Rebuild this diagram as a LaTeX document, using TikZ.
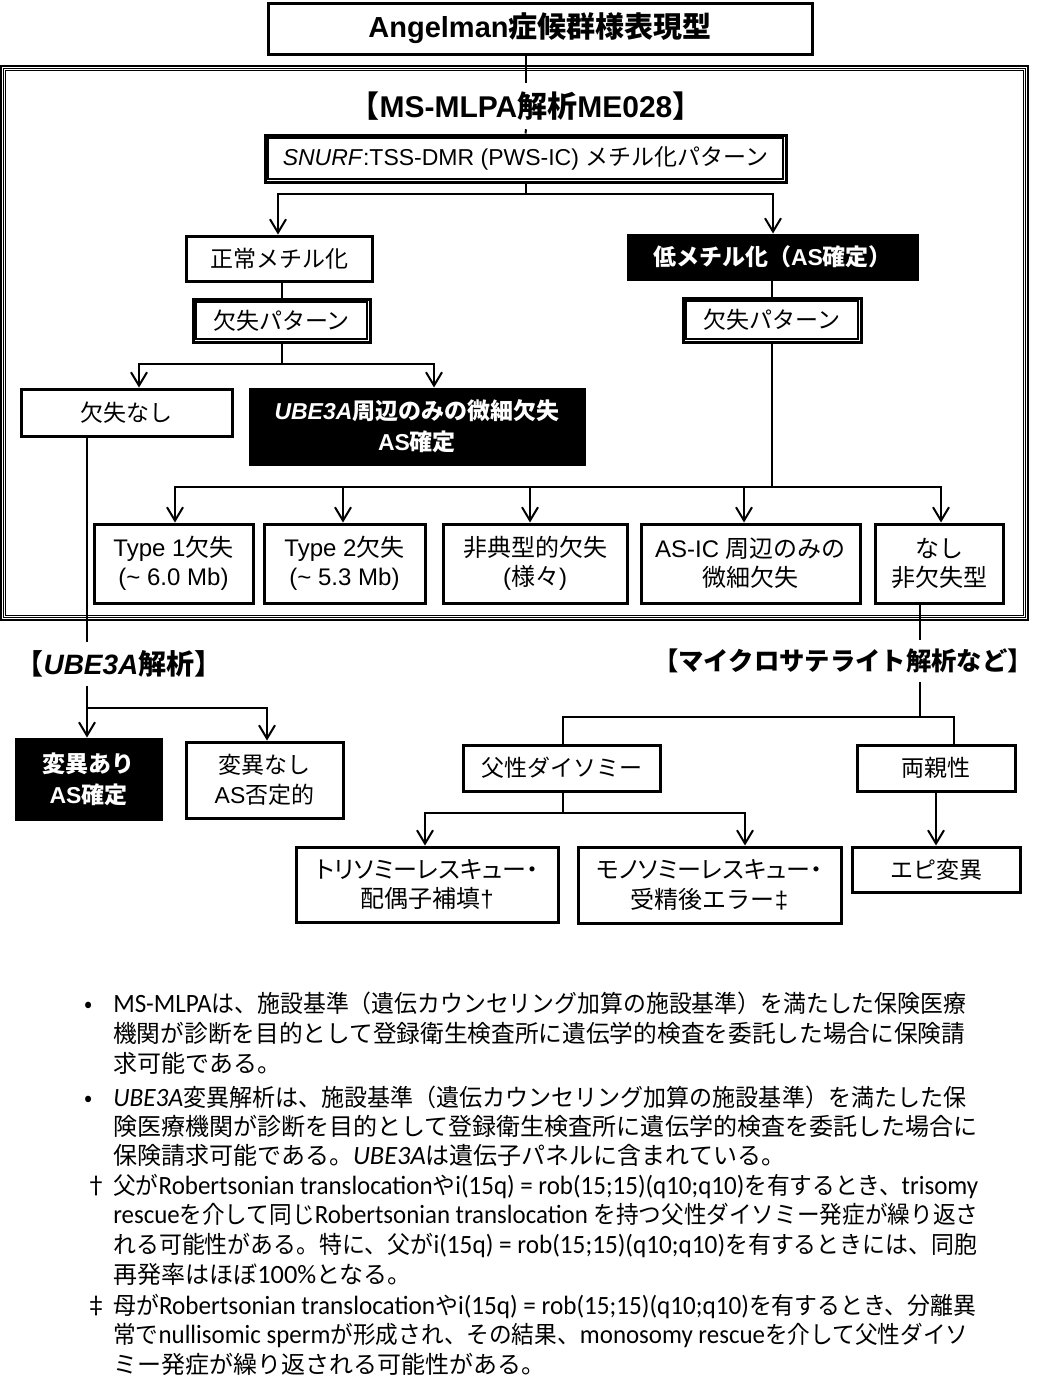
\documentclass[tikz,border=0pt]{standalone}
\usepackage{graphicx}
\usepackage{fontspec}
\setmainfont{Liberation Sans}
\newfontfamily\jp{Noto Sans CJK JP}
\newfontfamily\jpp{Noto Sans CJK JP}[RawFeature=+palt]
\newfontfamily\carl{Carlito}[Scale=1.1]
\newcommand\J[1]{{\jp #1}}
\newcommand\JP[1]{{\jpp #1}}
\newcommand\C[1]{{\carl #1}}
\newcommand\Ui{{\carl\itshape UBE3A}}
\newcommand\fitl[2]{\resizebox{#1}{\height}{#2}}
\usetikzlibrary{arrows.meta,calc}
\tikzset{
  bx/.style={draw, line width=2.25pt, inner sep=0pt, align=center,
    font=\fontsize{17.25pt}{22.5pt}\selectfont},
  bxl/.style={bx, font=\fontsize{18pt}{22pt}\selectfont},
  blk/.style={bx, fill=black, text=white, font=\bfseries\fontsize{17.25pt}{23pt}\selectfont},
  wh/.style 2 args={minimum width=#1*0.75pt, minimum height=#2*0.75pt},
  ln/.style={line width=1.5pt},
  arr/.style={ln, -{Straight Barb[length=10pt,width=12pt]}},
  hd/.style={inner sep=0pt, font=\bfseries\fontsize{19pt}{23pt}\selectfont},
  fn/.style={anchor=base west, inner sep=0pt, font=\jp\fontsize{18pt}{22pt}\selectfont},
  inner2/.style={line width=0.8pt}
}
\begin{document}
\begin{tikzpicture}[x=0.75pt,y=-0.75pt]
\useasboundingbox[fill=white] (0,0) rectangle (1043,1396);

% outer triple frame
\draw[line width=1.2pt] (1,66) rectangle (1028,620);
\draw[line width=1.0pt] (3.4,68.4) rectangle (1025.6,617.6);
\draw[line width=1.0pt] (5.8,70.8) rectangle (1023.2,615.2);

% nodes
\node[bx, wh={544}{51}, font=\bfseries\fontsize{21.75pt}{26pt}\selectfont] (title) at (540,28.5) {Angelman\J{症候群様表現型}};
\node[hd, minimum height=46*0.75pt, font=\bfseries\fontsize{22.5pt}{26pt}\selectfont] (mlpa) at (526,106) {\J{【}MS-MLPA\J{解析}ME028\J{】}};
\node[bx, wh={521}{47}] (snurf) at (525.5,158.5) {\textit{SNURF}:TSS-DMR (PWS-IC) \J{メチル化パターン}};
\draw[inner2] ($(snurf.north west)+(4.5,4.5)$) rectangle ($(snurf.south east)+(-4.5,-4.5)$);
\node[bx, wh={186}{45}] (norm) at (279,258.5) {\J{正常メチル化}};
\node[blk, wh={289}{44}] (hypo) at (772.5,257) {\J{低メチル化（}AS\J{確定）}};
\node[bx, wh={177}{43}] (delL) at (281.5,320.5) {\J{欠失パターン}};
\draw[inner2] ($(delL.north west)+(4.5,4.5)$) rectangle ($(delL.south east)+(-4.5,-4.5)$);
\node[bx, wh={178}{44}] (delR) at (772,320) {\J{欠失パターン}};
\draw[inner2] ($(delR.north west)+(4.5,4.5)$) rectangle ($(delR.south east)+(-4.5,-4.5)$);
\node[bx, wh={211}{47}] (nodel) at (126.5,412.5) {\J{欠失なし}};
\node[blk, wh={334}{75}] (ube) at (417,426.5) {\textit{UBE3A}\J{周辺のみの微細欠失}\\AS\J{確定}};

\node[bxl, wh={159}{79}] (t1) at (173.5,563.5) {Type 1\J{欠失}\\(\textasciitilde{} 6.0 Mb)};
\node[bxl, wh={161}{79}] (t2) at (344.5,563.5) {Type 2\J{欠失}\\(\textasciitilde{} 5.3 Mb)};
\node[bxl, wh={184}{79}] (atyp) at (535,563.5) {\J{非典型的欠失}\\(\J{様々})};
\node[bxl, wh={219}{79}] (asic) at (750.5,563.5) {AS-IC \J{周辺のみの}\\\J{微細欠失}};
\node[bxl, wh={128}{79}] (none) at (939,563.5) {\J{なし}\\\J{非欠失型}};

\node[hd, minimum height=43*0.75pt, font=\bfseries\fontsize{21pt}{25pt}\selectfont] (ubeh) at (119,664) {\J{【}\textit{UBE3A}\J{解析】}};
\node[hd, minimum height=41*0.75pt] (mich) at (843,661) {\J{【マイクロサテライト解析など】}};

\node[blk, wh={145}{80}] (mut) at (88.5,779) {\J{変異あり}\\AS\J{確定}};
\node[bx, wh={157}{76}] (nomut) at (264.5,780) {\J{変異なし}\\AS\J{否定的}};

\node[bx, wh={197}{46}] (upd) at (561.5,768) {\J{父性ダイソミー}};
\node[bx, wh={158}{46}] (bip) at (936,768) {\J{両親性}};
\node[bxl, wh={262}{75}] (tri) at (427,884.5) {\JP{トリソミーレスキュー・}\\\J{配偶子補填}\dag};
\node[bxl, wh={263}{76}] (mono) at (709.5,885) {\JP{モノソミーレスキュー・}\\\J{受精後エラー}\ddag};
\node[bx, wh={168}{45}] (epi) at (936,869.5) {\J{エピ変異}};

% helper coordinates
\coordinate (s1) at (525.5,194);
\coordinate (d1) at (281.5,364);
\coordinate (r1) at (772,487);
\coordinate (lx) at (87,0);
\coordinate (mx) at (920,0);
\coordinate (u1) at (87,708);
\coordinate (m1) at (920,717);
\coordinate (p1) at (563,813);

% connectors
\draw[ln] (title.south -| mlpa.north) -- (mlpa.north);
\draw[ln] (mlpa.south) -- (snurf.north);
\draw[ln] (snurf.south) -- (s1);
\draw[arr] (s1) -| (278,0 |- norm.north);
\draw[arr] (s1) -| (773,0 |- hypo.north);
\draw[ln] (norm.south -| delL.north) -- (delL.north);
\draw[ln] (hypo.south -| delR.north) -- (delR.north);
\draw[ln] (delL.south) -- (d1);
\draw[arr] (d1) -| (139,0 |- nodel.north);
\draw[arr] (d1) -| (434,0 |- ube.north);
\draw[ln] (delR.south) -- (r1);
\draw[arr] (r1) -| (175,0 |- t1.north);
\draw[arr] (r1) -| (343,0 |- t2.north);
\draw[arr] (r1) -| (530,0 |- atyp.north);
\draw[arr] (r1) -| (744,0 |- asic.north);
\draw[arr] (r1) -| (941,0 |- none.north);

\draw[ln] (nodel.south -| lx) -- (lx |- ubeh.north);
\draw[ln] (lx |- ubeh.south) -- (u1);
\draw[arr] (u1) -- (u1 |- mut.north);
\draw[arr] (u1) -| (267,0 |- nomut.north);

\draw[ln] (none.south -| mx) -- (mx |- mich.north);
\draw[ln] (mx |- mich.south) -- (m1);
\draw[ln] (m1) -| (563,0 |- upd.north);
\draw[ln] (m1) -| (954,0 |- bip.north);
\draw[ln] (upd.south -| p1) -- (p1);
\draw[arr] (p1) -| (425,0 |- tri.north);
\draw[arr] (p1) -| (745,0 |- mono.north);
\draw[arr] (bip.south -| epi.north) -- (epi.north);

% footnotes
\node[fn] (b1) at (84,1012) {•};
\node[fn] (f1) at (113,1012) {\fitl{639.75pt}{\C{MS-MLPA}は、施設基準（遺伝カウンセリング加算の施設基準）を満たした保険医療}};
\node[fn] (f2) at (113,1042) {\fitl{639pt}{機関が診断を目的として登録衛生検査所に遺伝学的検査を委託した場合に保険請}};
\node[fn] (f3) at (113,1072) {求可能である。};
\node[fn] (b2) at (84,1106) {•};
\node[fn] (f4) at (113,1106) {\fitl{639.75pt}{\Ui 変異解析は、施設基準（遺伝カウンセリング加算の施設基準）を満たした保}};
\node[fn] (f5) at (113,1135) {\fitl{648pt}{険医療機関が診断を目的として登録衛生検査所に遺伝学的検査を委託した場合に}};
\node[fn] (f6) at (113,1164) {保険請求可能である。\Ui は遺伝子パネルに含まれている。};
\node[fn] (b3) at (84,1194) {†};
\node[fn] (f7) at (113,1194) {\fitl{648.75pt}{父が\C{Robertsonian translocation}や\C{i(15q) = rob(15;15)(q10;q10)}を有するとき、\C{trisomy}}};
\node[fn] (f8) at (113,1223) {\fitl{648.75pt}{\C{rescue}を介して同じ\C{Robertsonian translocation }を持つ父性ダイソミー発症が繰り返さ}};
\node[fn] (f9) at (113,1253) {\fitl{648pt}{れる可能性がある。特に、父が\C{i(15q) = rob(15;15)(q10;q10)}を有するときには、同胞}};
\node[fn] (f10) at (113,1283) {再発率はほぼ\C{100\%}となる。};
\node[fn] (b4) at (84,1314) {‡};
\node[fn] (f11) at (113,1314) {\fitl{647.25pt}{母が\C{Robertsonian translocation}や\C{i(15q) = rob(15;15)(q10;q10)}を有するとき、分離異}};
\node[fn] (f12) at (113,1343) {\fitl{641.25pt}{常で\C{nullisomic sperm}が形成され、その結果、\C{monosomy rescue}を介して父性ダイソ}};
\node[fn] (f13) at (113,1373) {ミー発症が繰り返される可能性がある。};
\end{tikzpicture}
\end{document}
